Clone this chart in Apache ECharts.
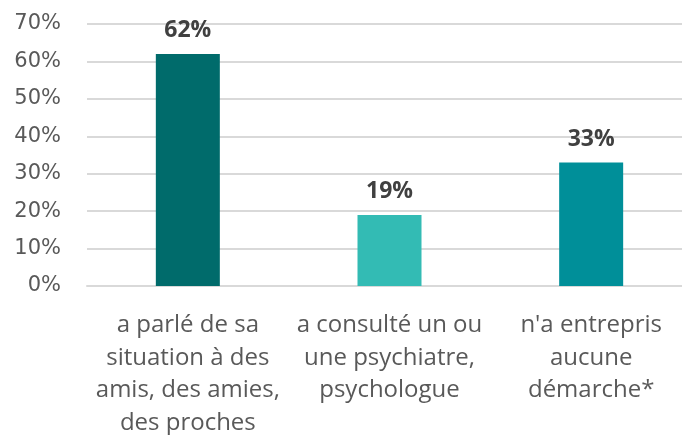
<!DOCTYPE html>
<html>
<head>
<meta charset="utf-8">
<script src="https://cdn.jsdelivr.net/npm/echarts@6/dist/echarts.min.js"></script>
<style>
  html, body { margin: 0; padding: 0; background: #fff; }
  #chart { width: 682px; height: 435px; }
</style>
</head>
<body>
<div id="chart"></div>
<script>
const categories = [
  'a parlé de sa\nsituation à des\namis, des amies,\ndes proches',
  'a consulté un ou\nune psychiatre,\npsychologue',
  "n'a entrepris\naucune\ndémarche*"
];
const values = [62, 19, 33];
const barColors = ['#006b6b', '#33bbb4', '#008f99'];

echarts.init(document.getElementById('chart')).setOption({
  animation: false,
  grid: {left: 87, top: 24, width: 605, height: 262, outerBoundsMode: 'none'},
  xAxis: {
    type: 'category',
    data: categories,
    axisLine: {lineStyle: {color: '#d9d9d9', width: 2}},
    axisTick: {show: false},
    axisLabel: {
      interval: 0,
      color: '#595959',
      fontFamily: '"Open Sans", sans-serif',
      fontSize: 24,
      lineHeight: 32.5,
      margin: 23
    }
  },
  yAxis: {
    type: 'value',
    min: 0,
    max: 70,
    interval: 10,
    axisLine: {show: false},
    axisTick: {show: false},
    splitLine: {lineStyle: {color: '#d9d9d9', width: 2}},
    axisLabel: {
      formatter: '{value}%',
      color: '#595959',
      fontFamily: '"DejaVu Sans", sans-serif',
      fontSize: 21,
      margin: 26
    }
  },
  series: [{
    type: 'bar',
    barWidth: 64,
    data: values.map((v, i) => ({value: v, itemStyle: {color: barColors[i]}})),
    label: {
      show: true,
      position: 'top',
      distance: 12,
      formatter: '{c}%',
      color: '#404040',
      fontFamily: '"Open Sans", sans-serif',
      fontWeight: 'bold',
      fontSize: 23
    }
  }]
});
</script>
</body>
</html>
